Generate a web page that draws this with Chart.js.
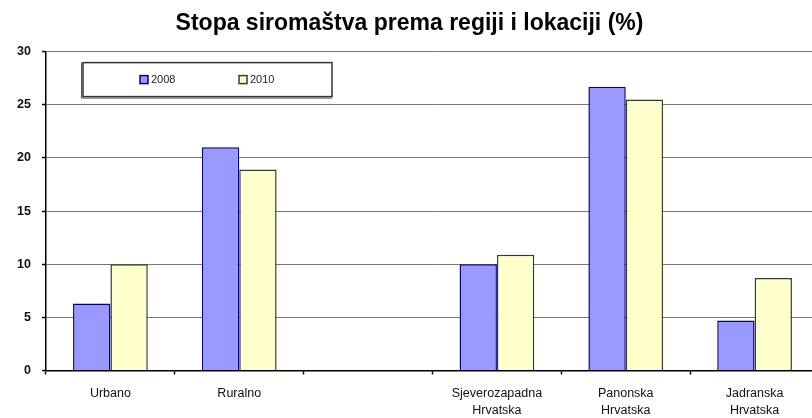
<!DOCTYPE html>
<html>
<head>
<meta charset="utf-8">
<script src="https://cdn.jsdelivr.net/npm/chart.js@4/dist/chart.umd.min.js"></script>
<style>
  html, body { margin: 0; padding: 0; background: #fff; width: 812px; height: 418px; overflow: hidden; }
  canvas { display: block; }
</style>
</head>
<body>
<canvas id="chart" width="824" height="418"></canvas>
<script>
// Poverty rate by region and settlement type (%)
const categories = ['Urbano', 'Ruralno', '', ['Sjeverozapadna', 'Hrvatska'], ['Panonska', 'Hrvatska'], ['Jadranska', 'Hrvatska']];
const seriesNames = ['2008', '2010'];
const values2008 = [6.3, 21.0, null, 10.0, 26.7, 4.7];
const values2010 = [10.0, 18.9, null, 10.9, 25.5, 8.7];
const yTickValues = [0, 5, 10, 15, 20, 25, 30];

const FONT = '"Liberation Sans", Arial, sans-serif';

// Framed legend drawn inside the plot area, top left
const boxedLegend = {
  id: 'boxedLegend',
  afterDraw(chart) {
    const { ctx, chartArea } = chart;
    const x = chartArea.left + 37, y = chartArea.top + 11, w = 249, h = 34;
    ctx.save();
    ctx.fillStyle = '#fff';
    ctx.fillRect(x, y, w, h);
    // soft shadow on the left and bottom edges
    ctx.strokeStyle = '#555';
    ctx.lineWidth = 1;
    ctx.beginPath();
    ctx.moveTo(x - 1.5, y);
    ctx.lineTo(x - 1.5, y + h + 1.5);
    ctx.lineTo(x + w, y + h + 1.5);
    ctx.stroke();
    ctx.strokeStyle = '#333';
    ctx.lineWidth = 1.5;
    ctx.strokeRect(x, y, w, h);
    const offsets = [57, 156];
    ctx.font = '11px ' + FONT;
    ctx.textBaseline = 'middle';
    chart.data.datasets.forEach((ds, i) => {
      const sx = x + offsets[i], cy = y + h / 2;
      ctx.fillStyle = ds.backgroundColor;
      ctx.fillRect(sx, cy - 4, 8, 8);
      ctx.strokeStyle = ds.borderColor;
      ctx.lineWidth = 1.5;
      ctx.strokeRect(sx, cy - 4, 8, 8);
      ctx.fillStyle = '#222';
      ctx.fillText(ds.label, sx + 11, cy + 0.5);
    });
    ctx.restore();
  }
};

new Chart(document.getElementById('chart'), {
  type: 'bar',
  data: {
    labels: categories,
    datasets: [
      { label: seriesNames[0], data: values2008, backgroundColor: '#9999ff', borderColor: '#000080', borderWidth: 1.5 },
      { label: seriesNames[1], data: values2010, backgroundColor: '#ffffcc', borderColor: '#3a3a2a', borderWidth: 1.5 }
    ]
  },
  options: {
    responsive: false,
    animation: false,
    events: [],
    datasets: { bar: { categoryPercentage: 0.58, barPercentage: 1.0 } },
    layout: { padding: { left: 0, right: 5, top: 0, bottom: 0 } },
    plugins: {
      legend: { display: false },
      tooltip: { enabled: false },
      title: {
        display: true,
        text: 'Stopa siromaštva prema regiji i lokaciji (%)',
        color: '#000',
        font: { family: FONT, size: 23, weight: 'bold', lineHeight: 1.2 },
        padding: { top: 10, bottom: 14 }
      }
    },
    scales: {
      x: {
        offset: true,
        border: { display: true, color: '#000', width: 1.5 },
        grid: { offset: true, drawOnChartArea: false, drawTicks: true, tickLength: 4, tickColor: '#000', tickWidth: 1.5 },
        ticks: { color: '#111', font: { family: FONT, size: 12.5, lineHeight: 1.4 }, padding: 10, maxRotation: 0, autoSkip: false },
        afterFit(scale) { scale.height = 47.5; }
      },
      y: {
        min: 0,
        max: 30,
        border: { display: true, color: '#000', width: 1.5 },
        grid: { color: '#777', lineWidth: 1, borderDash: [2, 2], drawTicks: true, tickLength: 4, tickColor: '#000', tickWidth: 1.5 },
        ticks: {
          stepSize: 5,
          color: '#111',
          font: { family: FONT, size: 12.5, weight: 'bold' },
          padding: 11
        },
        afterBuildTicks(scale) { scale.ticks = yTickValues.map(v => ({ value: v })); },
        afterFit(scale) { scale.width = 46; }
      }
    }
  },
  plugins: [boxedLegend]
});
</script>
</body>
</html>
